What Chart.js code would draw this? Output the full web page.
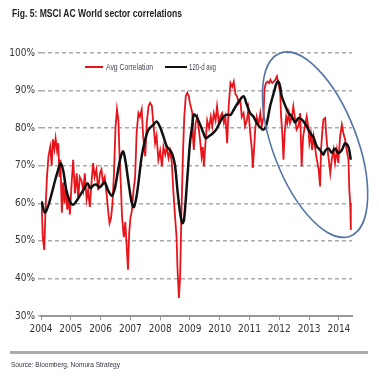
<!DOCTYPE html>
<html>
<head>
<meta charset="utf-8">
<script src="https://cdn.jsdelivr.net/npm/chart.js@4.4.1/dist/chart.umd.min.js"></script>
<style>
  html, body { margin: 0; padding: 0; background: #fff; }
  #wrap { position: relative; width: 379px; height: 377px; overflow: hidden; font-family: 'Liberation Sans', Arial, sans-serif; }
  #c { position: absolute; left: 0; top: 0; }
  .txt { position: absolute; white-space: nowrap; transform-origin: 0 50%; line-height: 1; }
  .swatch { position: absolute; height: 2.5px; }
</style>
</head>
<body>
<div id="wrap">
  <canvas id="c" width="379" height="377"></canvas>
  <div class="txt" id="title" style="left:12px; top:8px; font-size:11px; font-weight:bold; color:#222;">Fig. 5: MSCI AC World sector correlations</div>
  <div class="swatch" style="left:85px; top:65.5px; width:18px; background:#e8141c;"></div>
  <div class="txt" id="leg1" style="left:106px; top:62.5px; font-size:9px; color:#445;">Avg Correlation</div>
  <div class="swatch" style="left:165px; top:65.5px; width:22px; background:#111;"></div>
  <div class="txt" id="leg2" style="left:189px; top:62.5px; font-size:9px; color:#445;">120-d avg</div>
  <div style="position:absolute; left:10px; top:351px; width:358px; height:2.5px; background:#aaa;"></div>
  <div class="txt" id="source" style="left:11px; top:361px; font-size:8px; color:#334;">Source: Bloomberg, Nomura Strategy</div>
</div>
<script>
// daily avg correlation (decimal years / %)
var corrDates = [
  2004.02, 2004.06, 2004.11, 2004.15, 2004.20, 2004.25, 2004.31, 2004.36, 2004.40, 2004.45,
  2004.49, 2004.54, 2004.58, 2004.62, 2004.65, 2004.70, 2004.74, 2004.79, 2004.83, 2004.88,
  2004.92, 2004.97, 2005.03, 2005.08, 2005.14, 2005.20, 2005.25, 2005.30, 2005.36, 2005.42,
  2005.47, 2005.53, 2005.58, 2005.64, 2005.70, 2005.75, 2005.80, 2005.86, 2005.92, 2005.98,
  2006.03, 2006.08, 2006.14, 2006.20, 2006.25, 2006.30, 2006.35, 2006.40, 2006.45, 2006.50,
  2006.55, 2006.60, 2006.63, 2006.68, 2006.72, 2006.78, 2006.83, 2006.88, 2006.92, 2006.96,
  2007.00, 2007.05, 2007.10, 2007.16, 2007.21, 2007.27, 2007.32, 2007.38, 2007.43, 2007.50,
  2007.55, 2007.61, 2007.66, 2007.72, 2007.77, 2007.83, 2007.88, 2007.94, 2008.00, 2008.06,
  2008.11, 2008.17, 2008.22, 2008.28, 2008.33, 2008.39, 2008.44, 2008.50, 2008.55, 2008.58,
  2008.63, 2008.67, 2008.71, 2008.77, 2008.81, 2008.86, 2008.91, 2008.96, 2009.00, 2009.08,
  2009.10, 2009.13, 2009.19, 2009.25, 2009.30, 2009.35, 2009.39, 2009.43, 2009.47, 2009.52,
  2009.58, 2009.64, 2009.70, 2009.75, 2009.80, 2009.86, 2009.91, 2009.97, 2010.02, 2010.08,
  2010.14, 2010.19, 2010.25, 2010.30, 2010.36, 2010.42, 2010.47, 2010.53, 2010.58, 2010.64,
  2010.69, 2010.74, 2010.80, 2010.85, 2010.91, 2010.96, 2011.02, 2011.08, 2011.11, 2011.15,
  2011.19, 2011.24, 2011.30, 2011.36, 2011.41, 2011.47, 2011.50, 2011.55, 2011.61, 2011.66,
  2011.70, 2011.76, 2011.81, 2011.87, 2011.92, 2011.97, 2012.03, 2012.06, 2012.10, 2012.14,
  2012.18, 2012.23, 2012.27, 2012.32, 2012.36, 2012.42, 2012.47, 2012.53, 2012.58, 2012.64,
  2012.70, 2012.75, 2012.80, 2012.86, 2012.92, 2012.97, 2013.01, 2013.06, 2013.10, 2013.15,
  2013.21, 2013.26, 2013.32, 2013.37, 2013.40, 2013.44, 2013.48, 2013.54, 2013.57, 2013.62,
  2013.66, 2013.71, 2013.76, 2013.82, 2013.87, 2013.93, 2013.98, 2014.04, 2014.10, 2014.15,
  2014.21, 2014.26, 2014.32, 2014.35, 2014.38, 2014.40
];
var corrValues = [
  60, 51, 47.6, 58, 67, 72.5, 75, 70, 77, 74.4,
  77.3, 74, 76, 67, 71.6, 57.5, 65.5, 60, 64.6, 58.3,
  62, 57, 65.5, 71.6, 62.6, 68, 61, 67, 66, 63.5,
  68, 61, 63.5, 59, 66, 70.7, 67, 69, 63.5, 68,
  69, 65.5, 67, 62.6, 58.3, 54.7, 56, 60, 68, 80,
  85, 82, 74, 65, 56.5, 51, 55, 48, 42.3, 52,
  56, 58, 63, 67, 78.7, 84, 83, 85, 77.8, 72.5,
  81.4, 85.8, 86.7, 86, 81.4, 76, 78, 71.6, 74, 69.8,
  75, 73, 75, 72, 74, 71, 63.6, 56.5, 51, 43,
  34.8, 40.5, 56, 74.3, 83, 88.5, 89.4, 88.5, 86.7, 84,
  77.8, 74.2, 81.4, 83, 79.6, 76, 72.5, 75, 69.8, 76,
  82, 80, 83, 80.5, 84, 82, 85.8, 81.4, 83, 84,
  81.4, 83, 76, 85.8, 92, 91, 92.4, 89, 88.5, 86.7,
  87.6, 83, 84, 80.5, 82, 85, 79, 74.2, 69.4, 74,
  79.6, 83, 81, 84, 80.5, 83, 90.3, 92, 92.4, 92,
  92.9, 92, 92.4, 92.9, 93.8, 92, 89.4, 83, 78.7, 71.6,
  78.7, 83, 81.4, 84, 81.4, 83, 85.8, 82.3, 79.6, 80.5,
  84, 69.8, 77.8, 80.5, 83.1, 80.5, 76, 78.5, 74.2, 77.8,
  74.2, 71.6, 69, 64.5, 74.2, 78.7, 82.3, 82.7, 78.7, 74.2,
  71.6, 68, 71.6, 74.2, 70.7, 74.2, 70.7, 77.8, 80.9, 78.7,
  76.9, 74.2, 71.6, 63.6, 60, 52.9
];

// 120-day average
var avgDates = [
  2004.02, 2004.13, 2004.25, 2004.36, 2004.47, 2004.58, 2004.66, 2004.75, 2004.85, 2004.97,
  2005.08, 2005.18, 2005.30, 2005.42, 2005.56, 2005.66, 2005.76, 2005.86, 2005.96, 2006.06,
  2006.14, 2006.25, 2006.38, 2006.48, 2006.58, 2006.68, 2006.76, 2006.84, 2006.94, 2007.05,
  2007.12, 2007.20, 2007.27, 2007.38, 2007.50, 2007.61, 2007.77, 2007.88, 2007.99, 2008.11,
  2008.22, 2008.33, 2008.41, 2008.50, 2008.58, 2008.66, 2008.74, 2008.80, 2008.90, 2009.00,
  2009.08, 2009.13, 2009.22, 2009.41, 2009.53, 2009.63, 2009.75, 2009.88, 2010.02, 2010.13,
  2010.25, 2010.36, 2010.47, 2010.64, 2010.80, 2010.90, 2011.02, 2011.13, 2011.24, 2011.36,
  2011.47, 2011.55, 2011.60, 2011.69, 2011.80, 2011.91, 2011.97, 2012.03, 2012.08, 2012.20,
  2012.31, 2012.42, 2012.53, 2012.64, 2012.72, 2012.81, 2012.92, 2013.04, 2013.15, 2013.26,
  2013.37, 2013.48, 2013.54, 2013.65, 2013.76, 2013.87, 2013.98, 2014.10, 2014.21, 2014.32,
  2014.40
];
var avgValues = [
  60.5, 57.5, 59.5, 62.6, 66, 69, 70.7, 68.5, 63.5, 60.5,
  59.6, 60.5, 62, 63.5, 65.3, 64, 64.8, 65, 64.2, 65,
  65.6, 63.5, 62, 64, 68.5, 72.5, 73.8, 71, 65.4, 60,
  59, 61.5, 65.4, 72.5, 77, 79.6, 80.9, 81.8, 80.4, 77.8,
  75.1, 74.2, 73, 70, 63.5, 58, 54.7, 55.5, 65.4, 76,
  81, 83.6, 83.1, 79.6, 77.3, 77.8, 78.5, 79.6, 81.8, 83.1,
  83.6, 83.5, 84.9, 87.1, 88.5, 86.5, 84, 83.1, 81.4, 80.2,
  79.6, 80.5, 82, 85.8, 89, 92, 92.4, 91, 88.5, 86,
  84, 83.1, 81.5, 82.7, 82.5, 81.8, 80.5, 78.7, 77.5, 75.1,
  74.2, 72.9, 74, 74.6, 73.4, 74.6, 73.4, 74.2, 76, 75,
  71.6
];

var yearTicks = [2004, 2005, 2006, 2007, 2008, 2009, 2010, 2011, 2012, 2013, 2014];
var pctTicks = [30, 40, 50, 60, 70, 80, 90, 100];

function toPoints(xs, ys) {
  return xs.map(function (x, i) { return { x: x, y: ys[i] }; });
}

// blue ellipse drawn round the recent fall, centred in data units
var ringCentre = { x: 2013.2, y: 75.6 };

var ringPlugin = {
  id: 'ring',
  afterDatasetsDraw: function (chart) {
    var ctx = chart.ctx;
    var cx = chart.scales.x.getPixelForValue(ringCentre.x);
    var cy = chart.scales.y.getPixelForValue(ringCentre.y);
    ctx.save();
    ctx.strokeStyle = '#5574a6';
    ctx.lineWidth = 1.6;
    ctx.beginPath();
    ctx.ellipse(cx, cy, 98, 42, 69 * Math.PI / 180, 0, Math.PI * 2);
    ctx.stroke();
    ctx.restore();
  }
};

Chart.defaults.font.family = "'Liberation Sans Narrow', 'DejaVu Sans Condensed', 'Liberation Sans', Arial, sans-serif";
Chart.defaults.font.size = 10;
Chart.defaults.color = '#333';

var ctx = document.getElementById('c').getContext('2d');
var chart = new Chart(ctx, {
  type: 'line',
  data: {
    datasets: [{
      label: '120-d avg',
      data: toPoints(avgDates, avgValues),
      borderColor: '#111',
      borderWidth: 2.5,
      pointRadius: 0,
      tension: 0.3,
      order: 0
    }, {
      label: 'Avg Correlation',
      data: toPoints(corrDates, corrValues),
      borderColor: '#e8141c',
      borderWidth: 1.8,
      pointRadius: 0,
      tension: 0,
      order: 1
    }]
  },
  options: {
    responsive: false,
    animation: false,
    devicePixelRatio: 1,
    layout: { padding: { top: 53, right: 27, bottom: 39, left: 0 } },
    scales: {
      x: {
        type: 'linear',
        min: 2004,
        max: 2014.44,
        afterFit: function (s) { s.height = 22; },
        afterBuildTicks: function (s) { s.ticks = yearTicks.map(function (v) { return { value: v }; }); },
        ticks: {
          padding: 3,
          maxRotation: 0,
          autoSkip: false,
          callback: function (v) { return String(v); }
        },
        grid: { drawOnChartArea: false, tickLength: 4, color: '#999', lineWidth: 1 },
        border: { display: true, color: '#999', width: 2 }
      },
      y: {
        min: 30,
        max: 100,
        afterFit: function (s) { s.width = 41; },
        afterBuildTicks: function (s) { s.ticks = pctTicks.map(function (v) { return { value: v }; }); },
        ticks: {
          padding: 3,
          callback: function (v) { return v + '%'; }
        },
        grid: { color: '#aaa', lineWidth: 1.5, tickLength: 3 },
        border: { display: false, dash: [4, 3] }
      }
    },
    plugins: {
      legend: { display: false },
      tooltip: { enabled: false }
    }
  },
  plugins: [ringPlugin]
});

// squeeze the html texts to the narrow look of the original
function fitText(id, w) {
  var el = document.getElementById(id);
  var natural = el.getBoundingClientRect().width;
  el.style.transform = 'scaleX(' + (w / natural) + ')';
}
fitText('title', 170);
fitText('leg1', 47);
fitText('leg2', 27);
fitText('source', 109);
</script>
</body>
</html>
